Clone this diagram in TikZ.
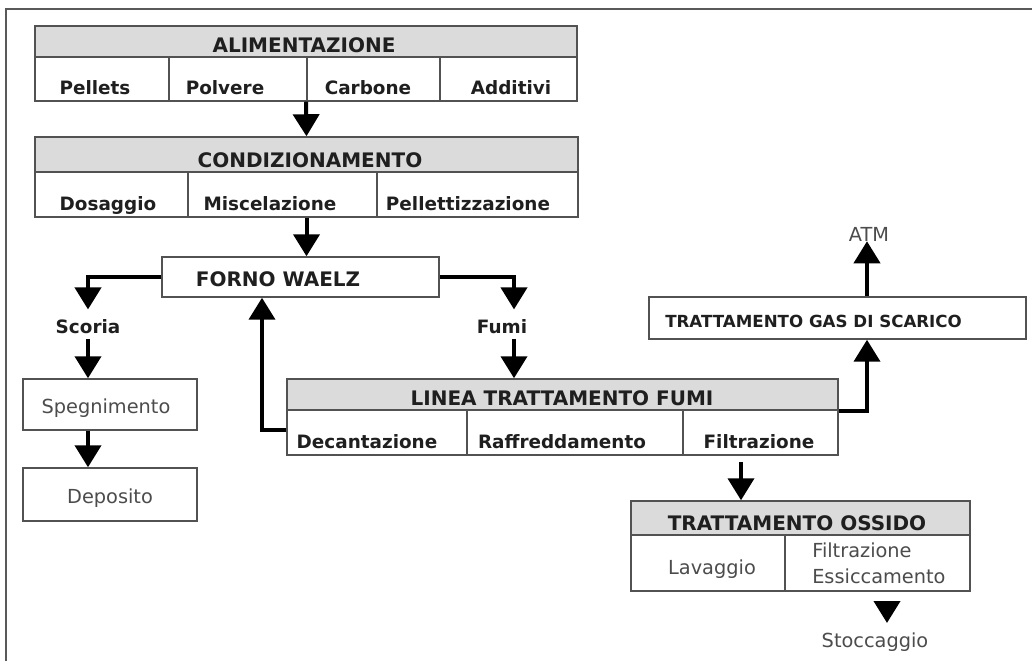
\documentclass[tikz,border=0pt]{standalone}
\usepackage{fontspec}
\setmainfont{DejaVu Sans}
\usetikzlibrary{arrows.meta,fit,calc}
\definecolor{hdr}{gray}{0.86}
\definecolor{bord}{gray}{0.32}
\definecolor{tcol}{gray}{0.12}
\definecolor{rcol}{gray}{0.3}
\definecolor{framec}{gray}{0.35}
\begin{document}
\begin{tikzpicture}[x=0.75pt,y=-0.75pt,
  box/.style={draw=bord, line width=1.1pt, fill=white, inner sep=0pt, fit={#1}},
  hbox/.style={box={#1}, fill=hdr},
  arr/.style={line width=3pt, draw=black, -{Triangle[width=19.5pt,length=16.5pt]}},
  bt/.style={font=\bfseries\fontsize{13.8}{15}\selectfont, text=tcol, inner sep=0pt, anchor=base},
  ht/.style={font=\bfseries\fontsize{15}{17}\selectfont, text=tcol, inner sep=0pt, anchor=base},
  gt/.style={font=\bfseries\fontsize{12.5}{14}\selectfont, text=tcol, inner sep=0pt, anchor=base},
  rt/.style={font=\fontsize{14.5}{16}\selectfont, text=rcol, inner sep=0pt, anchor=base},
  rtl/.style={rt, anchor=base west}]
\useasboundingbox (0,0) rectangle (1032,661);
\draw[framec, line width=1.5pt] (6,661) -- (6,9) -- (1032,9);

% ALIMENTAZIONE
\node[box={(35,26) (577,101)}] (alim) {};
\node[hbox={(35,26) (577,57)}] (alimh) {};
\node[box={(35,57) (169,101)}] (a1) {};
\node[box={(169,57) (307,101)}] (a2) {};
\node[box={(307,57) (440,101)}] (a3) {};
\node[box={(440,57) (577,101)}] (a4) {};
\node[ht] (talim) at (304,52) {ALIMENTAZIONE};
\node[bt] (tpel) at (95,94) {Pellets};
\node[bt] (tpol) at (225,94) {Polvere};
\node[bt] (tcar) at (368,94) {Carbone};
\node[bt] (tadd) at (511,94) {Additivi};

% CONDIZIONAMENTO
\node[box={(35,137) (578,217)}] (cond) {};
\node[hbox={(35,137) (578,172)}] (condh) {};
\node[box={(35,172) (188,217)}] (c1) {};
\node[box={(188,172) (377,217)}] (c2) {};
\node[box={(377,172) (578,217)}] (c3) {};
\node[ht] (tcond) at (310,167) {CONDIZIONAMENTO};
\node[bt] (tdos) at (108,210) {Dosaggio};
\node[bt] (tmis) at (270,210) {Miscelazione};
\node[bt] (tpell) at (468,210) {Pellettizzazione};

% FORNO
\node[box={(162,257) (439,297)}] (forno) {};
\node[ht] (tforno) at (278,286) {FORNO WAELZ};

% Scoria branch
\node[bt] (scoria) at (88,333) {Scoria};
\node[box={(23,379) (197,430)}] (speg) {};
\node[rt] (tspeg) at (106,413) {Spegnimento};
\node[box={(23,468) (197,521)}] (depo) {};
\node[rt] (tdepo) at (110,503) {Deposito};

% Fumi branch
\node[bt] (fumi) at (502,333) {Fumi};
\coordinate (fumiX) at (514,330);

% LINEA TRATTAMENTO FUMI
\node[box={(287,379) (838,455)}] (linea) {};
\node[hbox={(287,379) (838,410)}] (lineah) {};
\node[box={(287,410) (467,455)}] (ldec) {};
\node[box={(467,410) (683,455)}] (lraf) {};
\node[box={(683,410) (838,455)}] (lfil) {};
\node[ht] (tlinea) at (562,405) {LINEA TRATTAMENTO FUMI};
\node[bt] (tdec) at (367,448) {Decantazione};
\node[bt] (traf) at (562,448) {Raffreddamento};
\node[bt] (tfil) at (759,448) {Filtrazione};
\coordinate (retX) at (262,300);

% GAS
\node[box={(649,297) (1026,339)}] (gas) {};
\node[gt, anchor=base west] (tgas) at (665,327) {TRATTAMENTO GAS DI SCARICO};
\coordinate (gasX) at (867,320);
\node[rt] (atm) at (869,241) {ATM};

% OSSIDO
\node[box={(631,501) (970,591)}] (ossido) {};
\node[hbox={(631,501) (970,535)}] (ossidoh) {};
\node[box={(631,535) (785,591)}] (o1) {};
\node[box={(785,535) (970,591)}] (o2) {};
\node[ht] (toss) at (797,530) {TRATTAMENTO OSSIDO};
\node[rt] (tlav) at (712,574) {Lavaggio};
\node[rtl] (tfil2) at (812,557) {Filtrazione};
\node[rtl] (tess) at (812,583) {Essiccamento};
\coordinate (oxX) at (741,480);
\coordinate (stoX) at (887,602);
\coordinate (stotip) at (887,623);
\node[rt] (stoc) at (875,647) {Stoccaggio};

% connectors
\draw[arr] (alim.south) -- (cond.north);
\draw[arr] (cond.south) -- (cond.south |- forno.north);
\draw[arr, shorten >=7pt] (forno.west) -| (scoria.north);
\draw[arr, shorten <=4pt] (scoria.south) -- (scoria.south |- speg.north);
\draw[arr] (scoria.south |- speg.south) -- (scoria.south |- depo.north);
\draw[arr, shorten >=7pt] (forno.east) -| (fumiX |- fumi.north);
\draw[arr, shorten <=4pt] (fumiX |- fumi.south) -- (fumiX |- linea.north);
\draw[arr] ([yshift=2pt]ldec.west) -| (retX |- forno.south);
\draw[arr] (lineah.south east) -| (gasX |- gas.south);
\draw[arr] (gasX |- gas.north) -- (gasX |- atm.south);
\draw[arr, shorten <=5pt] (oxX |- lfil.south) -- (oxX |- ossido.north);
\draw[arr] (stoX) -- (stotip);
\end{tikzpicture}
\end{document}
